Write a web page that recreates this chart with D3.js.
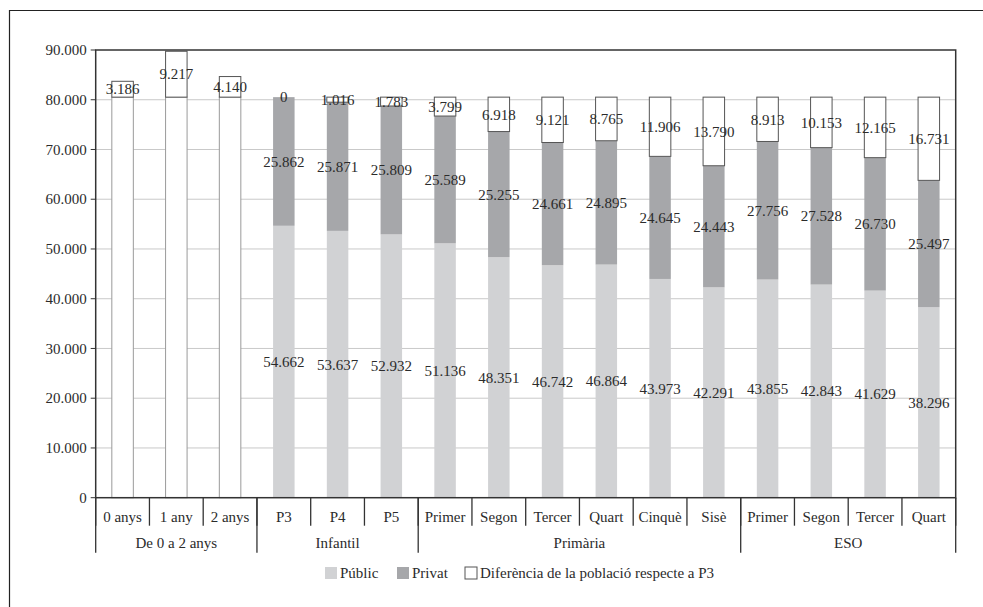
<!DOCTYPE html>
<html>
<head>
<meta charset="utf-8">
<title>Alumnes per curs</title>
<script src="https://d3js.org/d3.v7.min.js"></script>
<style>
    body { margin: 0; background: #fff; }
    svg { font-family: "Liberation Serif", "Times New Roman", Times, serif; }
    text { fill: #2b2b2b; }
    .grid line { stroke: #c9c9c9; stroke-width: 1px; }
</style>
</head>
<body>
<script>
    var categories = ["0 anys", "1 any", "2 anys", "P3", "P4", "P5", "Primer", "Segon", "Tercer", "Quart", "Cinquè", "Sisè", "Primer", "Segon", "Tercer", "Quart"];
    var groupNames = ["De 0 a 2 anys", "Infantil", "Primària", "ESO"];
    var groupSizes = [3, 3, 6, 4];
    var baseP3 = [80524, 80524, 80524, 0, 0, 0, 0, 0, 0, 0, 0, 0, 0, 0, 0, 0];
    var public_ = [0, 0, 0, 54662, 53637, 52932, 51136, 48351, 46742, 46864, 43973, 42291, 43855, 42843, 41629, 38296];
    var privat = [0, 0, 0, 25862, 25871, 25809, 25589, 25255, 24661, 24895, 24645, 24443, 27756, 27528, 26730, 25497];
    var diferencia = [3186, 9217, 4140, 0, 1016, 1783, 3799, 6918, 9121, 8765, 11906, 13790, 8913, 10153, 12165, 16731];
    var yTicks = [0, 10000, 20000, 30000, 40000, 50000, 60000, 70000, 80000, 90000];
    var legendNames = ["Públic", "Privat", "Diferència de la població respecte a P3"];

    var width = 983, height = 607;
    var plotLeft = 95.7, plotRight = 955.7, plotTop = 50, plotBottom = 497.7;

    var svg = d3.select("body").append("svg")
        .attr("width", width)
        .attr("height", height)
        .attr("font-family", "Liberation Serif, serif");

    // outer frame (left and top visible)
    svg.append("path")
        .attr("d", "M9.5," + height + "V10.5H" + (width + 10))
        .attr("fill", "none")
        .attr("stroke", "#222")
        .attr("stroke-width", 1.2);

    var x = d3.scaleBand().domain(d3.range(categories.length)).range([plotLeft, plotRight]);
    var y = d3.scaleLinear().domain([0, 90000]).range([plotBottom, plotTop]);
    var fmt = function(v) { return d3.format(",")(v).replace(/,/g, "."); };

    // gridlines
    svg.append("g").attr("class", "grid")
        .selectAll("line").data(yTicks.slice(1, -1)).enter().append("line")
        .attr("x1", plotLeft).attr("x2", plotRight)
        .attr("y1", function(d) { return y(d); }).attr("y2", function(d) { return y(d); });

    var rows = categories.map(function(c, i) {
        return {i: i, base: baseP3[i], pub: public_[i], priv: privat[i], diff: diferencia[i]};
    });
    var keys = ["base", "pub", "priv", "diff"];
    var series = d3.stack().keys(keys)(rows);

    var fills = {base: "#fff", pub: "#d1d2d4", priv: "#a6a7aa", diff: "#fff"};
    var strokes = {base: "#9a9a9a", pub: "none", priv: "none", diff: "#555"};

    var bw = x.bandwidth() * 0.4;

    series.forEach(function(s) {
        svg.append("g").selectAll("rect")
            .data(s.filter(function(d) { return d[1] - d[0] > 0; }))
            .enter().append("rect")
            .attr("x", function(d) { return x(d.data.i) + (x.bandwidth() - bw) / 2; })
            .attr("width", bw)
            .attr("y", function(d) { return y(d[1]); })
            .attr("height", function(d) { return y(d[0]) - y(d[1]); })
            .attr("fill", fills[s.key])
            .attr("stroke", strokes[s.key])
            .attr("stroke-width", 1);
    });

    // data labels
    series.forEach(function(s) {
        if (s.key === "base") return;
        svg.append("g").selectAll("text")
            .data(s.filter(function(d) { return s.key === "diff" || d[1] - d[0] > 0; }))
            .enter().append("text")
            .attr("x", function(d) { return x(d.data.i) + x.bandwidth() / 2; })
            .attr("y", function(d) { return y((d[0] + d[1]) / 2); })
            .attr("dy", "0.35em")
            .attr("text-anchor", "middle")
            .style("font-size", "15px")
            .text(function(d) { return fmt(d[1] - d[0]); });
    });

    // plot border
    svg.append("rect")
        .attr("x", plotLeft).attr("y", plotTop)
        .attr("width", plotRight - plotLeft).attr("height", plotBottom - plotTop)
        .attr("fill", "none").attr("stroke", "#333").attr("stroke-width", 1.5);

    // y axis ticks and labels
    var yg = svg.append("g");
    yg.selectAll("line").data(yTicks).enter().append("line")
        .attr("x1", plotLeft - 5).attr("x2", plotLeft)
        .attr("y1", function(d) { return y(d); }).attr("y2", function(d) { return y(d); })
        .attr("stroke", "#333");
    yg.selectAll("text").data(yTicks).enter().append("text")
        .attr("x", plotLeft - 9)
        .attr("y", function(d) { return y(d); })
        .attr("dy", "0.35em")
        .attr("text-anchor", "end")
        .style("font-size", "15px")
        .text(fmt);

    // category separators and labels
    var xg = svg.append("g");
    xg.selectAll("line.cat").data(d3.range(categories.length + 1)).enter().append("line")
        .attr("x1", function(i) { return plotLeft + i * x.step(); })
        .attr("x2", function(i) { return plotLeft + i * x.step(); })
        .attr("y1", plotBottom).attr("y2", plotBottom + 28)
        .attr("stroke", "#333").attr("stroke-width", 1.3);
    xg.selectAll("text.cat").data(categories).enter().append("text")
        .attr("x", function(d, i) { return x(i) + x.bandwidth() / 2; })
        .attr("y", plotBottom + 19)
        .attr("dy", "0.35em")
        .attr("text-anchor", "middle")
        .style("font-size", "15px")
        .text(function(d) { return d; });

    // group separators and labels
    var starts = [0];
    groupSizes.forEach(function(n, i) { starts.push(starts[i] + n); });
    xg.selectAll("line.grp").data(starts).enter().append("line")
        .attr("x1", function(i) { return plotLeft + i * x.step(); })
        .attr("x2", function(i) { return plotLeft + i * x.step(); })
        .attr("y1", plotBottom).attr("y2", plotBottom + 55)
        .attr("stroke", "#333").attr("stroke-width", 1.3);
    xg.selectAll("text.grp").data(groupNames).enter().append("text")
        .attr("x", function(d, i) { return plotLeft + (starts[i] + groupSizes[i] / 2) * x.step(); })
        .attr("y", plotBottom + 45.5)
        .attr("dy", "0.35em")
        .attr("text-anchor", "middle")
        .style("font-size", "15px")
        .text(function(d) { return d; });

    // legend
    var legendFill = [fills.pub, fills.priv, fills.diff];
    var legendStroke = ["none", "none", "#555"];
    var legendX = [325, 397, 465];
    var lg = svg.append("g");
    legendNames.forEach(function(name, i) {
        lg.append("rect")
            .attr("x", legendX[i]).attr("y", 567)
            .attr("width", 12).attr("height", 12)
            .attr("fill", legendFill[i]).attr("stroke", legendStroke[i]);
        lg.append("text")
            .attr("x", legendX[i] + 15).attr("y", 573)
            .attr("dy", "0.35em")
            .style("font-size", "15px")
            .text(name);
    });
</script>
</body>
</html>
